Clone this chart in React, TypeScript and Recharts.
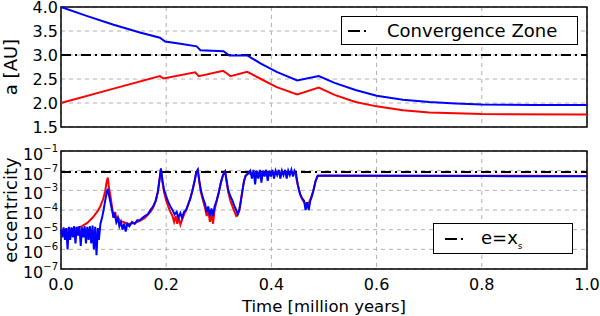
import React from "react";
import { LineChart, Line, XAxis, YAxis, CartesianGrid, ReferenceLine, ReferenceArea } from "recharts";

// semi-major axis [AU] vs time [Myr]
const aOuter: [number, number][] = [
  [0, 4.0], [0.05, 3.81], [0.1, 3.63], [0.15, 3.47], [0.188, 3.36], [0.198, 3.28], [0.23, 3.23],
  [0.258, 3.18], [0.265, 3.1], [0.309, 3.08], [0.32, 2.99], [0.354, 2.99], [0.38, 2.82], [0.41, 2.65],
  [0.449, 2.47], [0.49, 2.56], [0.52, 2.42], [0.56, 2.27], [0.6, 2.15], [0.65, 2.07], [0.7, 2.02],
  [0.75, 1.99], [0.8, 1.97], [0.9, 1.96], [1.0, 1.96],
];
const aInner: [number, number][] = [
  [0, 2.0], [0.1, 2.3], [0.188, 2.56], [0.195, 2.51], [0.255, 2.64], [0.262, 2.56], [0.308, 2.67],
  [0.315, 2.62], [0.322, 2.56], [0.354, 2.65], [0.38, 2.5], [0.41, 2.33], [0.449, 2.18], [0.49, 2.32],
  [0.52, 2.17], [0.56, 2.02], [0.6, 1.93], [0.65, 1.85], [0.7, 1.8], [0.8, 1.77], [1.0, 1.76],
];

// eccentricity vs time
const eInner: [number, number][] = [
  [0, 1e-5], [0.01, 1e-5], [0.02, 1.05e-5], [0.03, 1.2e-5], [0.04, 1.5e-5], [0.05, 2.2e-5], [0.06, 4e-5],
  [0.065, 6e-5], [0.07, 9e-5], [0.075, 1.6e-4], [0.08, 3.5e-4], [0.084, 9e-4], [0.087, 3e-3], [0.089, 4.5e-3],
  [0.091, 1.5e-3], [0.094, 5e-4], [0.097, 1.5e-4], [0.1, 4e-5], [0.103, 8e-5], [0.106, 2.5e-5], [0.109, 4e-5],
  [0.113, 2.5e-5], [0.118, 2.5e-5], [0.125, 2e-5], [0.13, 2e-5], [0.14, 2.2e-5], [0.15, 2.8e-5], [0.16, 4e-5],
  [0.17, 8e-5], [0.175, 1.3e-4], [0.18, 2.8e-4], [0.184, 8e-4], [0.187, 3e-3], [0.19, 1.2e-2], [0.193, 2.5e-3],
  [0.196, 8e-4], [0.2, 3e-4], [0.204, 1.5e-4], [0.208, 8e-5], [0.212, 5e-5], [0.215, 2.5e-5], [0.218, 5e-5],
  [0.221, 2e-5], [0.224, 4e-5], [0.227, 1.8e-5], [0.23, 3e-5], [0.234, 6e-5], [0.238, 1e-4], [0.242, 2e-4],
  [0.246, 4e-4], [0.25, 1e-3], [0.254, 3e-3], [0.257, 8e-3], [0.26, 1.1e-2], [0.263, 2.5e-3], [0.266, 8e-4],
  [0.27, 3e-4], [0.274, 1.2e-4], [0.277, 5e-5], [0.28, 1e-4], [0.283, 2.5e-5], [0.286, 6e-5], [0.289, 2e-5],
  [0.292, 1e-4], [0.296, 3e-4], [0.3, 8e-4], [0.304, 2.5e-3], [0.308, 6e-3], [0.312, 9e-3], [0.315, 2.5e-3],
  [0.318, 8e-4], [0.322, 3e-4], [0.326, 1.5e-4], [0.33, 8e-5], [0.333, 5e-5], [0.336, 6e-5], [0.339, 1e-4],
  [0.342, 3e-4], [0.345, 1e-3], [0.348, 3e-3], [0.351, 5.5e-3], [0.355, 7e-3], [0.4, 8e-3], [0.445, 8e-3],
  [0.45, 2e-3], [0.455, 6e-4], [0.46, 3e-4], [0.465, 2e-4], [0.47, 2e-4], [0.475, 4e-4], [0.48, 1e-3],
  [0.484, 3e-3], [0.488, 5.5e-3], [0.5, 5.6e-3], [0.6, 5.5e-3], [0.8, 5.5e-3], [1.0, 5.4e-3],
];
const eOuter: [number, number][] = [
  [0, 1e-5], [0.0025, 4e-6], [0.005, 1.3e-5], [0.0075, 3e-6], [0.01, 1.2e-5], [0.0125, 1e-6], [0.015, 1.4e-5],
  [0.0175, 3e-6], [0.02, 1.3e-5], [0.0225, 4e-6], [0.025, 1.5e-5], [0.0275, 2e-6], [0.03, 1.4e-5], [0.0325, 5e-6],
  [0.035, 1.5e-5], [0.0375, 1.5e-6], [0.04, 1.3e-5], [0.0425, 4e-6], [0.045, 1.5e-5], [0.0475, 2e-6],
  [0.05, 1.4e-5], [0.0525, 3e-6], [0.055, 1.5e-5], [0.0575, 2e-6], [0.06, 1.6e-5], [0.0625, 1e-6],
  [0.065, 1.4e-5], [0.0675, 5e-7], [0.07, 1.2e-5], [0.072, 3e-6], [0.075, 2e-5], [0.078, 4e-5], [0.081, 1e-4],
  [0.084, 3e-4], [0.087, 8e-4], [0.089, 1.2e-3], [0.091, 6e-4], [0.094, 2.5e-4], [0.097, 1e-4], [0.1, 4e-5],
  [0.102, 7e-5], [0.105, 2.5e-5], [0.108, 4e-5], [0.111, 1.5e-5], [0.114, 2.5e-5], [0.117, 1e-5], [0.12, 2e-5],
  [0.123, 8e-6], [0.126, 2e-5], [0.13, 1.5e-5], [0.135, 2.5e-5], [0.14, 2e-5], [0.145, 3e-5], [0.15, 3e-5],
  [0.155, 4e-5], [0.16, 5e-5], [0.165, 6e-5], [0.17, 1e-4], [0.175, 1.5e-4], [0.18, 3e-4], [0.184, 8e-4],
  [0.187, 3e-3], [0.19, 1.3e-2], [0.193, 3e-3], [0.196, 1e-3], [0.2, 5e-4], [0.204, 2.5e-4], [0.208, 1.5e-4],
  [0.212, 1e-4], [0.216, 6e-5], [0.22, 8e-5], [0.223, 4e-5], [0.227, 7e-5], [0.23, 4e-5], [0.234, 8e-5],
  [0.238, 1e-4], [0.242, 2e-4], [0.246, 4e-4], [0.25, 1e-3], [0.254, 3e-3], [0.257, 8e-3], [0.26, 1.1e-2],
  [0.263, 3e-3], [0.266, 1e-3], [0.27, 4e-4], [0.274, 2e-4], [0.277, 8e-5], [0.28, 1.5e-4], [0.283, 5e-5],
  [0.286, 1.2e-4], [0.289, 5e-5], [0.292, 1.5e-4], [0.296, 3e-4], [0.3, 8e-4], [0.304, 2.5e-3], [0.308, 6e-3],
  [0.312, 9e-3], [0.315, 3e-3], [0.318, 1e-3], [0.322, 5e-4], [0.326, 3e-4], [0.33, 1.5e-4], [0.333, 1e-4],
  [0.336, 6e-5], [0.339, 1e-4], [0.342, 3e-4], [0.345, 1e-3], [0.348, 3e-3], [0.351, 5.5e-3], [0.355, 7e-3],
  [0.36, 1e-2], [0.363, 4e-3], [0.366, 1.1e-2], [0.369, 2e-3], [0.372, 1e-2], [0.375, 4e-3], [0.378, 1.1e-2],
  [0.381, 2.5e-3], [0.384, 1e-2], [0.387, 5e-3], [0.39, 1.1e-2], [0.393, 3e-3], [0.396, 1e-2], [0.399, 5e-3],
  [0.402, 1.1e-2], [0.405, 4e-3], [0.408, 1e-2], [0.411, 6e-3], [0.414, 1.1e-2], [0.417, 4e-3], [0.42, 1e-2],
  [0.423, 6e-3], [0.426, 1.1e-2], [0.429, 4e-3], [0.432, 1e-2], [0.435, 6e-3], [0.438, 1.1e-2], [0.441, 5e-3],
  [0.444, 1e-2], [0.447, 7e-3], [0.45, 2e-3], [0.454, 7e-4], [0.458, 4e-4], [0.462, 3e-4], [0.465, 1e-4],
  [0.468, 2.5e-4], [0.471, 1e-4], [0.474, 3e-4], [0.477, 5e-4], [0.48, 1e-3], [0.484, 3e-3], [0.488, 5.5e-3],
  [0.495, 5.5e-3], [0.6, 5.5e-3], [0.8, 5.3e-3], [1.0, 5.2e-3],
];

const timeTicks = [0, 0.2, 0.4, 0.6, 0.8, 1.0];
const aTicks = [1.5, 2.0, 2.5, 3.0, 3.5, 4.0];
const eTicks = [1e-1, 1e-2, 1e-3, 1e-4, 1e-5, 1e-6, 1e-7];
const eTickExp = ["\u22121", "\u22127", "\u22123", "\u22124", "\u22125", "\u22126", "\u22127"];
const convergenceZone = 3.0;
const xs = 0.0085;

const toPts = (arr: [number, number][]) => arr.map(([t, v]) => ({ t, v }));

const FONT = "DejaVu Sans, sans-serif";
const DASHDOT = "10 4 2 4";
const GRID = "#b0b0b0";

const ATick = (p: any) => (
  <text x={p.x - 3} y={p.y} dy={6} textAnchor="end" fontSize={16} fontFamily={FONT} fill="#000">
    {Number(p.payload.value).toFixed(1)}
  </text>
);

const ETick = (p: any) => {
  const i = eTicks.indexOf(p.payload.value);
  return (
    <text x={p.x - 3} y={p.y} dy={9} textAnchor="end" fontSize={16} fontFamily={FONT} fill="#000">
      <tspan>10</tspan>
      <tspan fontSize={10} dy={-8}>{eTickExp[i]}</tspan>
    </text>
  );
};

const TTick = (p: any) => (
  <text x={p.x} y={p.y} dy={21} textAnchor="middle" fontSize={16} fontFamily={FONT} fill="#000">
    {Number(p.payload.value).toFixed(1)}
  </text>
);

const yLabel = (text: string) => (props: any) => {
  const vb = props.viewBox;
  const cy = vb.y + vb.height / 2;
  return (
    <text x={10} y={cy} transform={`rotate(-90, 10, ${cy})`} textAnchor="middle" dominantBaseline="central"
      fontSize={18} fontFamily={FONT} fill="#000">
      {text}
    </text>
  );
};

const DashDotSample = () => (
  <svg width={22} height={6} style={{ display: "block" }}>
    <line x1={0} y1={3} x2={22} y2={3} stroke="#000" strokeWidth={2} strokeDasharray="12 4 2 10" />
  </svg>
);

export default function App() {
  return (
    <div style={{ position: "absolute", left: 0, top: 0, width: 600, height: 316, background: "#fff", fontFamily: FONT }}>
      <style>{".recharts-surface { overflow: visible; }"}</style>
      <div style={{ position: "absolute", left: 0, top: 0 }}>
        <LineChart width={600} height={140} margin={{ top: 7, right: 13, bottom: 13, left: 0 }}>
          <CartesianGrid stroke={GRID} strokeDasharray="4 4" />
          <XAxis dataKey="t" type="number" domain={[0, 1]} ticks={timeTicks} interval={0} hide />
          <YAxis type="number" domain={[1.5, 4]} ticks={aTicks} interval={0} width={61} axisLine={false} tickLine={false}
            tickSize={0} tickMargin={0} tick={ATick} label={{ content: yLabel("a [AU]") }} />
          <ReferenceLine y={convergenceZone} stroke="#000" strokeWidth={2} strokeDasharray={DASHDOT} />
          <Line data={toPts(aInner)} dataKey="v" stroke="#ff0000" strokeWidth={2} dot={false} isAnimationActive={false} />
          <Line data={toPts(aOuter)} dataKey="v" stroke="#0000ff" strokeWidth={2} dot={false} isAnimationActive={false} />
          <ReferenceArea x1={0} x2={1} y1={1.5} y2={4} fill="none" stroke="#000" strokeWidth={1.5} />
        </LineChart>
      </div>
      <div style={{ position: "absolute", left: 0, top: 140 }}>
        <LineChart width={600} height={176} margin={{ top: 11, right: 13, bottom: 0, left: 0 }}>
          <CartesianGrid stroke={GRID} strokeDasharray="4 4" />
          <XAxis dataKey="t" type="number" domain={[0, 1]} ticks={timeTicks} interval={0} height={47} axisLine={false}
            tickLine={false} tickSize={0} tickMargin={0} tick={TTick}
            label={{ value: "Time [million years]", position: "insideBottom", offset: 4, fontSize: 16.5, fontFamily: FONT, fill: "#000" }} />
          <YAxis type="number" scale="log" domain={[1e-7, 1e-1]} allowDataOverflow ticks={eTicks} interval={0} width={61}
            axisLine={false} tickLine={false} tickSize={0} tickMargin={0} tick={ETick}
            label={{ content: yLabel("eccentricity") }} />
          <ReferenceLine y={xs} stroke="#000" strokeWidth={2} strokeDasharray={DASHDOT} />
          <Line data={toPts(eInner)} dataKey="v" stroke="#ff0000" strokeWidth={2} dot={false} isAnimationActive={false} />
          <Line data={toPts(eOuter)} dataKey="v" stroke="#0000ff" strokeWidth={2} dot={false} isAnimationActive={false} />
          <ReferenceArea x1={0} x2={1} y1={1e-7} y2={1e-1} fill="none" stroke="#000" strokeWidth={1.5} />
        </LineChart>
      </div>
      <div style={{ position: "absolute", left: 341, top: 16, width: 237, height: 29, boxSizing: "border-box",
        border: "1.5px solid #000", background: "#fff", display: "flex", alignItems: "center" }}>
        <div style={{ marginLeft: 6 }}><DashDotSample /></div>
        <span style={{ marginLeft: 17, fontSize: 18, whiteSpace: "nowrap" }}>Convergence Zone</span>
      </div>
      <div style={{ position: "absolute", left: 433, top: 223, width: 140, height: 31, boxSizing: "border-box",
        border: "1.5px solid #000", background: "#fff", display: "flex", alignItems: "center" }}>
        <div style={{ marginLeft: 11 }}><DashDotSample /></div>
        <span style={{ marginLeft: 14, fontSize: 18, whiteSpace: "nowrap" }}>
          e=x<sub style={{ fontSize: 9 }}>s</sub>
        </span>
      </div>
    </div>
  );
}
